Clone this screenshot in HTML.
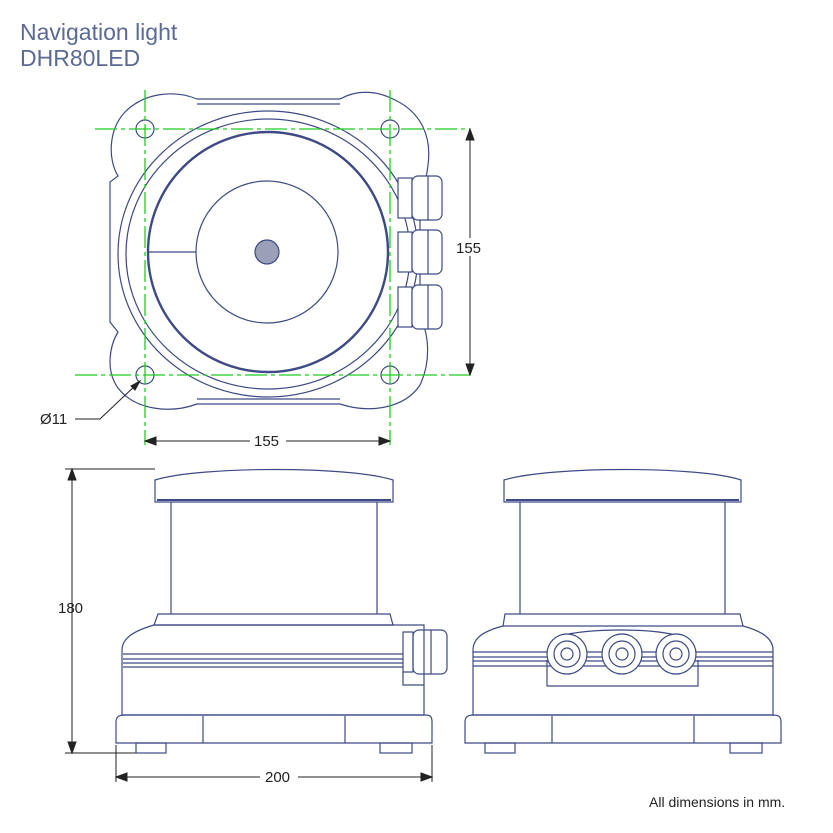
<!DOCTYPE html>
<html><head><style>
body{margin:0;background:#fff}
svg{display:block}
text{font-family:"Liberation Sans",sans-serif}
</style></head><body>
<svg width="833" height="833" viewBox="0 0 833 833" xmlns="http://www.w3.org/2000/svg">
<text x="20" y="40" font-size="23" fill="#5a6a95">Navigation light</text>
<text x="20" y="66" font-size="23" fill="#5a6a95">DHR80LED</text>
<g fill="none" stroke="#3d4a85" stroke-width="1.2">
<!-- top view housing -->
<path d="M197,99 L340,99 C360,88 380,92 395,100 C420,112 432,135 428,165 C426,180 425,185 420,190 L420,318 C428,330 432,360 420,385 C405,408 370,414 340,404 L197,404 C170,414 135,410 118,388 C105,370 110,345 118,332 L110,322 L110,182 L118,176 C108,160 108,130 125,112 C145,92 175,90 197,99 Z"/>
<path d="M197,104 L340,104 M197,399 L340,399"/>
<ellipse cx="268" cy="254" rx="150" ry="143"/>
<ellipse cx="268" cy="254" rx="142" ry="135"/>
<circle cx="268" cy="252" r="120" stroke-width="2.4"/>
<circle cx="267" cy="252" r="71"/>
<line x1="148" y1="252" x2="196" y2="252"/>
<circle cx="267" cy="252" r="12" fill="#9aa0b8"/>
<circle cx="145" cy="129" r="9"/><circle cx="390" cy="129" r="9"/>
<circle cx="145" cy="375" r="9"/><circle cx="390" cy="375" r="9"/>
<g fill="#fff">
<rect x="398" y="178" width="14" height="40"/><rect x="412" y="176" width="30" height="44" rx="6"/><line x1="428" y1="176" x2="428" y2="220"/>
<rect x="398" y="232" width="14" height="40"/><rect x="412" y="230" width="30" height="44" rx="6"/><line x1="428" y1="230" x2="428" y2="274"/>
<rect x="398" y="287" width="14" height="40"/><rect x="412" y="285" width="30" height="44" rx="6"/><line x1="428" y1="285" x2="428" y2="329"/>
</g>
</g>
<g stroke="#22cc22" stroke-width="1.3" stroke-dasharray="22,4,4,4" fill="none">
<line x1="145" y1="90" x2="145" y2="445"/>
<line x1="390" y1="90" x2="390" y2="445"/>
<line x1="95" y1="129" x2="470" y2="129"/>
<line x1="75" y1="375" x2="470" y2="375"/>
</g>
<!-- dims -->
<g stroke="#222" stroke-width="1" fill="#222">
<line x1="470" y1="129" x2="470" y2="375"/>
<path d="M466,140 L470,129 L474,140Z M466,364 L470,375 L474,364Z"/>
<line x1="145" y1="441" x2="390" y2="441"/>
<path d="M156,437 L145,441 L156,445Z M379,437 L390,441 L379,445Z"/>
<path d="M75,419 L100,419 L138,383" fill="none"/>
<path d="M131,386 L140,381 L135,390Z"/>
<line x1="72" y1="469" x2="72" y2="753"/>
<path d="M68,480 L72,469 L76,480Z M68,742 L72,753 L76,742Z"/>
<line x1="65" y1="469" x2="155" y2="469"/>
<line x1="65" y1="753" x2="136" y2="753"/>
<line x1="116" y1="745" x2="116" y2="782"/><line x1="432" y1="745" x2="432" y2="782"/>
<line x1="116" y1="777" x2="432" y2="777"/>
<path d="M127,773 L116,777 L127,781Z M421,773 L432,777 L421,781Z"/>
</g>
<g font-size="15" fill="#222">
<rect x="455" y="238" width="32" height="18" fill="#fff"/>
<text x="456" y="253">155</text>
<rect x="250" y="432" width="36" height="18" fill="#fff"/>
<text x="254" y="446">155</text>
<text x="40" y="424">Ø11</text>
<text x="58" y="613">180</text>
<rect x="260" y="768" width="38" height="18" fill="#fff"/>
<text x="265" y="782">200</text>
<text x="649" y="807" font-size="14">All dimensions in mm.</text>
</g>
<!-- side view left -->
<g fill="none" stroke="#3d4a85" stroke-width="1.2">
<path d="M155,502 L155,480 C200,466 350,466 393,480 L393,502 Z"/>
<line x1="157" y1="500" x2="391" y2="500" stroke-width="2"/>
<line x1="171" y1="502" x2="171" y2="614"/><line x1="377" y1="502" x2="377" y2="614"/>
<path d="M158,614 L390,614 L393,625 L154,625 Z"/>
<path d="M154,625 C130,632 122,640 122,650 L122,715 L424,715 L424,625 Z"/>
<line x1="123" y1="654" x2="403" y2="654"/><line x1="123" y1="659" x2="403" y2="659"/>
<line x1="123" y1="663" x2="403" y2="663"/><line x1="123" y1="667" x2="403" y2="667"/>
<rect x="403" y="632" width="10" height="40"/><rect x="413" y="630" width="34" height="44" rx="6"/><line x1="431" y1="630" x2="431" y2="674"/>
<path d="M403,672 L403,685 L424,685"/>
<path d="M116,722 C116,716 120,715 125,715 L425,715 C430,715 432,716 432,722 L432,743 L116,743 Z"/>
<line x1="203" y1="716" x2="203" y2="743"/><line x1="345" y1="716" x2="345" y2="743"/>
<rect x="136" y="743" width="30" height="10"/><rect x="380" y="743" width="32" height="10"/>
</g>
<!-- side view right -->
<g fill="none" stroke="#3d4a85" stroke-width="1.2">
<path d="M504,502 L504,480 C550,466 700,466 741,480 L741,502 Z"/>
<line x1="506" y1="500" x2="739" y2="500" stroke-width="2"/>
<line x1="520" y1="502" x2="520" y2="614"/><line x1="725" y1="502" x2="725" y2="614"/>
<path d="M505,614 L740,614 L743,626 L503,626 Z"/>
<path d="M503,626 C480,632 473,640 473,650 L473,715 L773,715 L773,650 C773,640 765,632 743,626"/>
<line x1="473" y1="652" x2="773" y2="652"/><line x1="473" y1="657" x2="773" y2="657"/>
<line x1="473" y1="661" x2="773" y2="661"/><line x1="473" y1="666" x2="773" y2="666"/>
<path d="M547,660 L547,686 L698,686 L698,660"/>
<path d="M560,636 C590,628 650,628 680,636"/>
<g fill="#fff">
<circle cx="567" cy="654" r="20"/><circle cx="567" cy="654" r="13"/><circle cx="567" cy="654" r="6"/>
<circle cx="622" cy="654" r="20"/><circle cx="622" cy="654" r="13"/><circle cx="622" cy="654" r="6"/>
<circle cx="676" cy="654" r="20"/><circle cx="676" cy="654" r="13"/><circle cx="676" cy="654" r="6"/>
</g>
<path d="M465,722 C465,716 469,715 474,715 L772,715 C778,715 781,716 781,722 L781,743 L465,743 Z"/>
<line x1="552" y1="716" x2="552" y2="743"/><line x1="694" y1="716" x2="694" y2="743"/>
<rect x="485" y="743" width="30" height="10"/><rect x="730" y="743" width="32" height="10"/>
</g>
</svg>
</body></html>
